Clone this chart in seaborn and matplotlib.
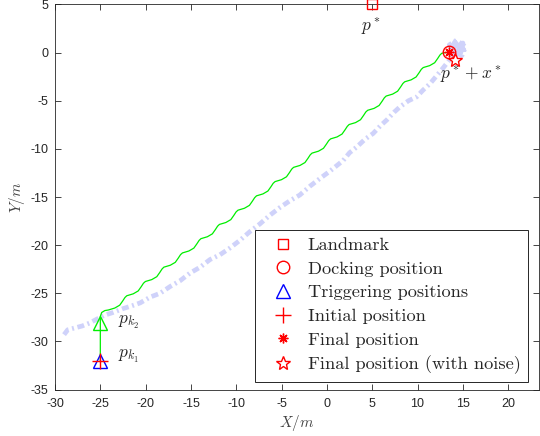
import matplotlib
matplotlib.use("Agg")
import matplotlib.pyplot as plt
import seaborn as sns
import pandas as pd

# trajectory without noise (green): vertical hop, then wavy approach
green_pts = [
    (-25.00, -32.00), (-25.00, -27.40), (-24.85, -27.00), (-24.50, -26.80),
    (-24.12, -26.74), (-23.41, -26.54), (-22.86, -26.24), (-22.53, -25.80), (-22.28, -25.44),
    (-22.08, -25.26), (-21.37, -25.06), (-20.82, -24.76), (-20.49, -24.32), (-20.24, -23.96),
    (-20.03, -23.78), (-19.32, -23.58), (-18.77, -23.28), (-18.44, -22.84), (-18.19, -22.48),
    (-17.99, -22.29), (-17.28, -22.09), (-16.73, -21.79), (-16.40, -21.35), (-16.15, -20.99),
    (-15.94, -20.81), (-15.23, -20.61), (-14.68, -20.31), (-14.35, -19.87), (-14.10, -19.51),
    (-13.90, -19.33), (-13.19, -19.13), (-12.64, -18.83), (-12.31, -18.39), (-12.06, -18.03),
    (-11.86, -17.85), (-11.15, -17.65), (-10.60, -17.35), (-10.27, -16.91), (-10.02, -16.55),
    (-9.81, -16.37), (-9.10, -16.17), (-8.55, -15.87), (-8.22, -15.43), (-7.97, -15.07),
    (-7.77, -14.88), (-7.06, -14.68), (-6.51, -14.38), (-6.18, -13.94), (-5.93, -13.58),
    (-5.72, -13.40), (-5.01, -13.20), (-4.46, -12.90), (-4.13, -12.46), (-3.88, -12.10),
    (-3.68, -11.92), (-2.97, -11.72), (-2.42, -11.42), (-2.09, -10.98), (-1.84, -10.62),
    (-1.64, -10.44), (-0.93, -10.24), (-0.38, -9.94), (-0.05, -9.50), (0.20, -9.14),
    (0.41, -8.96), (1.12, -8.76), (1.67, -8.46), (2.00, -8.02), (2.25, -7.66),
    (2.45, -7.47), (3.16, -7.27), (3.71, -6.97), (4.04, -6.53), (4.29, -6.17),
    (4.50, -5.99), (5.21, -5.79), (5.76, -5.49), (6.09, -5.05), (6.34, -4.69),
    (6.54, -4.51), (7.25, -4.31), (7.80, -4.01), (8.13, -3.57), (8.38, -3.21),
    (8.58, -3.03), (9.29, -2.83), (9.84, -2.53), (10.17, -2.09), (10.42, -1.73),
    (10.63, -1.55), (11.34, -1.35), (11.89, -1.05), (12.22, -0.61), (12.47, -0.25),
    (12.67, -0.07), (13.10, 0.00), (13.50, 0.05),
]

# trajectory with noise (light blue, dash-dot), ends in a tangle near the target
noise_pts = [
    (-29.0, -29.3), (-28.6, -28.8), (-27.8, -28.6), (-27.0, -28.4), (-26.2, -28.1),
    (-25.4, -27.7), (-24.6, -27.3), (-23.6, -27.0), (-22.5, -26.6), (-21.5, -26.3),
    (-20.6, -26.0), (-19.5, -25.4), (-18.4, -25.0), (-17.3, -24.3), (-16.2, -23.7),
    (-15.1, -22.9), (-14.0, -22.3), (-12.9, -21.5), (-11.8, -21.0), (-10.7, -20.3),
    (-9.6, -19.5), (-8.5, -18.6), (-7.4, -17.8), (-6.3, -16.9), (-5.2, -16.1),
    (-4.1, -15.4), (-3.0, -14.8), (-1.9, -13.9), (-0.8, -13.1), (0.35, -12.3),
    (1.8, -11.2), (2.5, -10.4), (3.3, -9.8), (4.2, -9.0), (5.1, -8.4),
    (5.9, -7.6), (6.6, -7.0), (7.4, -6.2), (8.1, -5.6), (9.0, -5.0),
    (9.9, -4.6), (10.6, -3.9), (11.4, -3.2), (12.2, -2.3), (12.9, -1.5),
    (13.4, -0.9), (13.8, -0.3), (14.6, 0.9), (15.1, 0.3), (14.0, 0.9),
    (13.6, 0.3), (14.9, -0.3), (15.3, 0.6), (14.3, 1.3), (13.5, 0.8),
    (14.2, -0.2), (15.0, 1.0), (14.6, -0.4), (13.9, 0.5), (14.8, 0.4),
    (14.1, 1.1), (13.7, -0.1), (15.2, 0.2), (14.4, 0.6),
]

landmark = (5.0, 5.0)
docking = (13.5, 0.05)
trigger_k1 = (-25.0, -32.0)
trigger_k2 = (-25.0, -28.1)
initial = (-25.0, -32.0)
final = (13.5, 0.1)
final_noise = (14.15, -0.8)

legend_labels = ["Landmark", "Docking position", "Triggering positions",
                 "Initial position", "Final position", "Final position (with noise)"]

x_ticks = [-30, -25, -20, -15, -10, -5, 0, 5, 10, 15, 20]
y_ticks = [-35, -30, -25, -20, -15, -10, -5, 0, 5]

sns.set_style("ticks")
plt.rcParams["mathtext.fontset"] = "cm"
plt.rcParams["font.family"] = ["Liberation Sans", "DejaVu Sans"]
plt.rcParams["lines.scale_dashes"] = False

fig = plt.figure(figsize=(5.4, 4.36), dpi=100)
ax = fig.add_axes([55 / 540, 1 - 389.5 / 436, 484 / 540, 385 / 436])

green = pd.DataFrame(green_pts, columns=["x", "y"])
noisy = pd.DataFrame(noise_pts, columns=["x", "y"])

sns.lineplot(data=noisy, x="x", y="y", sort=False, estimator=None, ax=ax,
             color="#cfd2fa", linewidth=3.4, legend=False)
blue_line = ax.lines[-1]
blue_line.set_linestyle((0, (5, 2.6, 1.4, 2.6)))
blue_line.set_dash_capstyle("butt")
sns.lineplot(data=green, x="x", y="y", sort=False, estimator=None, ax=ax,
             color="#00ee00", linewidth=0.9, legend=False)

red = "#ff0000"
mk = dict(ls="none", mfc="none", mew=1.0, snap=False)
h1, = ax.plot(*landmark, marker="s", ms=7, mec=red, clip_on=False, zorder=5, **mk)
h2, = ax.plot(*docking, marker="o", ms=9, mec=red, **mk)
h3, = ax.plot(*trigger_k1, marker="^", ms=10, mec="#0000ff", **mk)
ax.plot(*trigger_k2, marker="^", ms=10, mec="#00ee00", **mk)
h4, = ax.plot(*initial, marker="+", ms=11, mec=red, **mk)
h5, = ax.plot(*final, marker=(8, 2, 0), ms=7, mec=red, **mk)
h6, = ax.plot(*final_noise, marker="*", ms=10, mec=red, **mk)

ax.text(4.8, 2.6, r"$p^*$", fontsize=12.5, ha="center", va="center")
ax.text(15.9, -2.4, r"$p^*+x^*$", fontsize=12.5, ha="center", va="center")
ax.text(-23.0, -28.0, r"$p_{k_2}$", fontsize=12.5, ha="left", va="center")
ax.text(-23.0, -31.6, r"$p_{k_1}$", fontsize=12.5, ha="left", va="center")

ax.set_xlim(-30, 23.4)
ax.set_ylim(-35, 5)
ax.set_xticks(x_ticks)
ax.set_yticks(y_ticks)
ax.set_xticklabels([str(v) for v in x_ticks])
ax.set_yticklabels([str(v) for v in y_ticks])
ax.tick_params(direction="in", length=4, width=0.6, top=True, right=True,
               labelsize=9, colors="#262626")
ax.tick_params(axis="x", pad=6)
ax.tick_params(axis="y", pad=5)
for s in ax.spines.values():
    s.set_linewidth(0.6)
    s.set_color("#262626")
    s.set_visible(True)

ax.set_xlabel(r"$X/m$", fontsize=11, color="#444444", labelpad=2)
ax.set_ylabel(r"$Y/m$", fontsize=11, color="#444444", labelpad=2)

leg = ax.legend([h1, h2, h3, h4, h5, h6], legend_labels, loc="lower right",
                bbox_to_anchor=(0.977, 0.02), borderaxespad=0, fancybox=False,
                frameon=True, handlelength=2.2, handletextpad=0.25,
                labelspacing=0.43, borderpad=0.4,
                prop={"family": "cmr10", "size": 13.2})
leg.get_frame().set_edgecolor("#262626")
leg.get_frame().set_linewidth(0.7)
leg.get_frame().set_alpha(1)

fig.savefig("out.png", dpi=100)
